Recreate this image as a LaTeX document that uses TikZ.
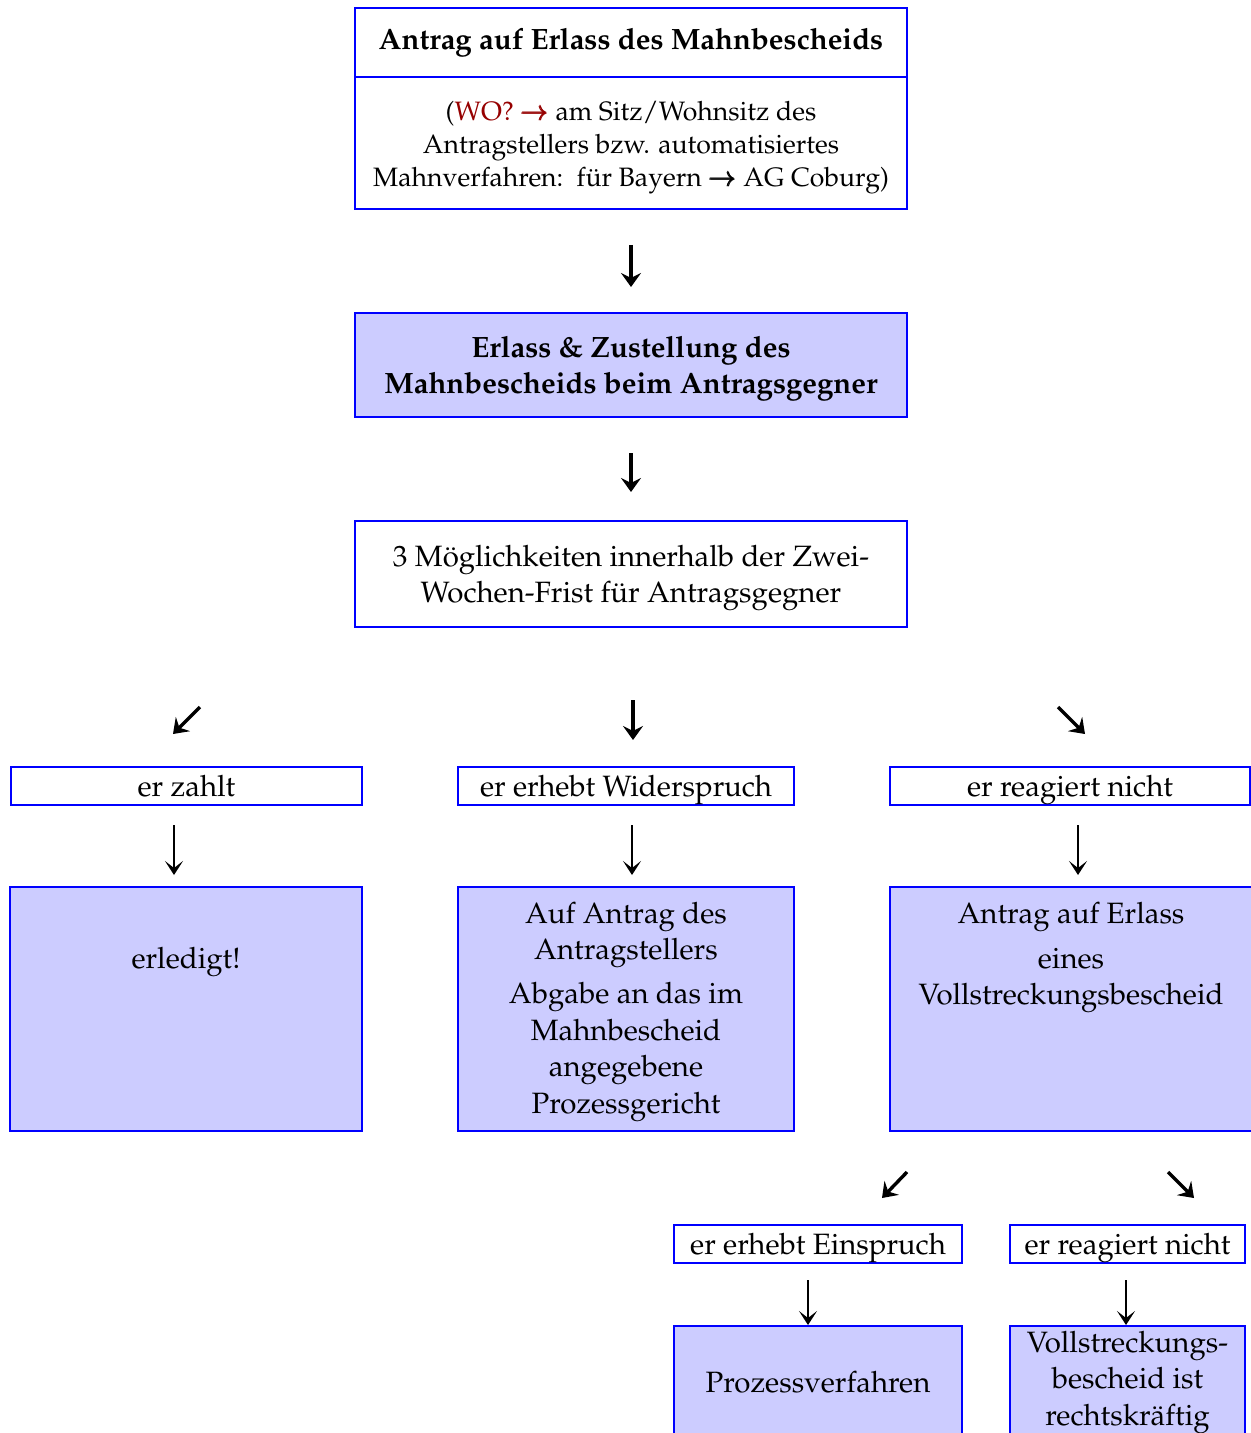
\documentclass[tikz,border=0pt]{standalone}
\usepackage[T1]{fontenc}
\usepackage{mathpazo}
\usepackage{amsmath}
\usepackage{xcolor}
\usepackage{tikz}
\usetikzlibrary{arrows.meta, positioning, calc}

\definecolor{boxblue}{RGB}{0,0,255}
\definecolor{boxfill}{RGB}{204,204,255}
\definecolor{wored}{RGB}{150,0,0}
\newcommand{\bodyfont}{\fontsize{14.7}{18.25}\selectfont}
\newcommand{\wofont}{\fontsize{13.3}{16.5}\selectfont}
\newcommand{\topgap}{\rule{0pt}{14.5pt}}

\tikzset{
  box/.style={rectangle, draw=boxblue, line width=1.2pt, fill=white, inner sep=0pt, outer sep=0pt, align=center, font=\bodyfont},
  shaded/.style={box, fill=boxfill},
  smallbox/.style={box, minimum height=19pt, text height=10.5pt, text depth=0pt},
  txt/.style={inner sep=0pt, outer sep=0pt, align=center, font=\bodyfont},
  bigarrow/.style={line width=1.7pt, -{Stealth[length=7pt,width=10pt,inset=2.5pt]}},
  thinarrow/.style={line width=0.9pt, -{Stealth[length=7pt,width=9pt,inset=3.5pt]}}
}

\begin{document}
\begin{tikzpicture}[x=0.5pt, y=-0.5pt]
\useasboundingbox (0,0) rectangle (1251,1433);

% main column
\node (antrag) [box, anchor=north, minimum width=276pt, minimum height=34.5pt, font=\bodyfont\bfseries] at (631,8) {Antrag auf Erlass des Mahnbescheids};
\node (wo) [box, below=0pt of antrag, minimum width=276pt, minimum height=66pt, font=\wofont] {\rule{0pt}{14pt}(\textcolor{wored}{WO? $\pmb{\rightarrow}$}~am Sitz/Wohnsitz des\\Antragstellers bzw. automatisiertes\\Mahnverfahren:\ \ f\"ur Bayern $\pmb{\rightarrow}$ AG Coburg)};
\node (erlass) [shaded, below=52pt of wo, minimum width=276pt, minimum height=52pt, font=\bodyfont\bfseries] {\topgap Erlass \& Zustellung des\\Mahnbescheids beim Antragsgegner};
\node (moeglich) [box, below=52pt of erlass, minimum width=276pt, minimum height=53pt] {\topgap 3 M\"oglichkeiten innerhalb der Zwei-\\Wochen-Frist f\"ur Antragsgegner};

% three reactions
\node (zahlt) [smallbox, minimum width=175.5pt] at (186.5,786) {er zahlt};
\node (widerspruch) [smallbox, minimum width=168pt] at (626,786) {er erhebt Widerspruch};
\node (nicht) [smallbox, minimum width=180pt] at (1070,786) {er reagiert nicht};

\node (erledigt) [shaded, minimum width=176pt, minimum height=122pt] at (186,1009) {};
\node (abgabe) [shaded, minimum width=168pt, minimum height=122pt] at (626,1009) {};
\node (vollantrag) [shaded, minimum width=182pt, minimum height=122pt] at (1072,1009) {};
\node (erledigttxt) [txt, anchor=north] at (186,947) {erledigt!};
\node (abgabetxt) [txt, anchor=north] at (626,902) {Auf Antrag des\\Antragstellers\\[3.75pt]Abgabe an das im\\Mahnbescheid\\angegebene\\Prozessgericht};
\node (vollantragtxt) [txt, anchor=north] at (1071,902) {Antrag auf Erlass\\[4.25pt]eines\\Vollstreckungsbescheid};

% after Vollstreckungsbescheid
\node (einspruch) [smallbox, minimum width=144pt] at (818,1244) {er erhebt Einspruch};
\node (nicht2) [smallbox, minimum width=117.5pt] at (1127.5,1244) {er reagiert nicht};
\node (prozess) [shaded, minimum width=144pt, minimum height=56pt] at (818,1382) {Prozessverfahren};
\node (rechtskraft) [shaded, minimum width=117.5pt, minimum height=56pt] at (1127.5,1382) {Vollstreckungs-\\bescheid ist\\rechtskr\"aftig};

% arrows
\draw [bigarrow] ([yshift=-18pt]wo.south) -- ([yshift=13pt]erlass.north);
\draw [bigarrow] ([yshift=-18pt]erlass.south) -- ([yshift=14.5pt]moeglich.north);
\draw [bigarrow] ([shift={(13.5,-60)}]zahlt.north) -- ([shift={(-13.5,-33)}]zahlt.north);
\draw [bigarrow] ([shift={(7,-67)}]widerspruch.north) -- ([shift={(7,-27)}]widerspruch.north);
\draw [bigarrow] ([shift={(-12,-60)}]nicht.north) -- ([shift={(15,-33)}]nicht.north);
\draw [thinarrow] ([shift={(-12.5,20)}]zahlt.south) -- ([shift={(-12,-12)}]erledigt.north);
\draw [thinarrow] ([shift={(6,20)}]widerspruch.south) -- ([shift={(6,-12)}]abgabe.north);
\draw [thinarrow] ([shift={(8,20)}]nicht.south) -- ([shift={(6,-12)}]vollantrag.north);
\draw [bigarrow] ([shift={(89,-53)}]einspruch.north) -- ([shift={(64,-27)}]einspruch.north);
\draw [bigarrow] ([shift={(40.5,-53)}]nicht2.north) -- ([shift={(66.5,-27)}]nicht2.north);
\draw [thinarrow] ([shift={(-10,17)}]einspruch.south) -- ([shift={(-10,-1)}]prozess.north);
\draw [thinarrow] ([shift={(-1.5,17)}]nicht2.south) -- ([shift={(-1.5,-1)}]rechtskraft.north);
\end{tikzpicture}
\end{document}
